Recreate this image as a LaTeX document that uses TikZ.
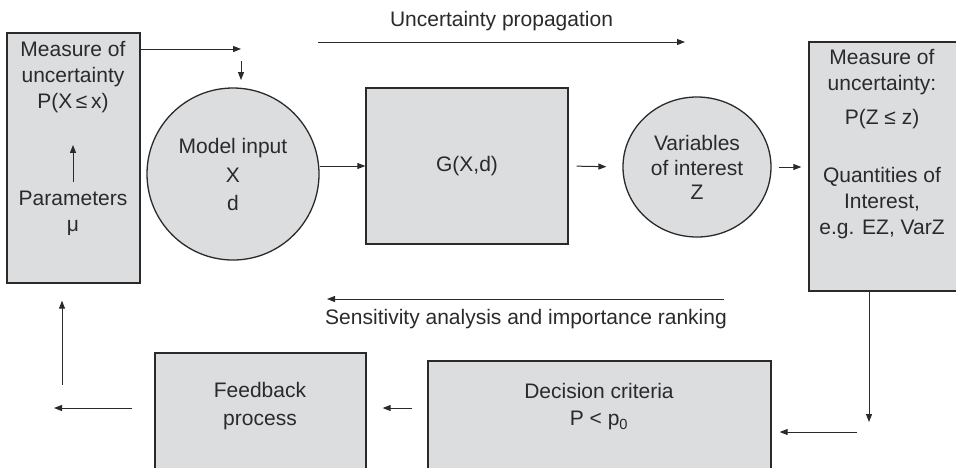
\documentclass[tikz,border=0pt]{standalone}
\usepackage{fontspec}
\setmainfont{Liberation Sans}
\usetikzlibrary{shapes.geometric,arrows.meta,positioning,calc}
\definecolor{boxgray}{HTML}{DCDDDF}
\definecolor{inkgray}{HTML}{2A2A2A}
\tikzset{
  block/.style={draw=inkgray,line width=1.3pt,fill=boxgray,inner sep=0pt,align=center},
  plain/.style={align=center,inner sep=0pt},
  flow/.style={-{Triangle[length=8pt,width=6pt]},line width=1pt,draw=inkgray}
}
\begin{document}
\begin{tikzpicture}[x=1pt,y=-1pt,font=\fontsize{21}{26}\selectfont,text=inkgray]
  \useasboundingbox (0,0) rectangle (956,467);
  \node[block,minimum width=133pt,minimum height=250pt] (inbox) at (73.5,158) {};
  \node[plain] (measin) at (73,77) {Measure of\\uncertainty\\P(X\,≤\,x)};
  \node[plain] (params) at (73,213.5) {Parameters\\μ};
  \node[block,circle,minimum size=172pt] (input) at (233,174) {Model input\\[3pt]X\\[2pt]d};
  \node[block,minimum width=202pt,minimum height=156pt] (model) at (467,166) {G(X,d)};
  \node[block,ellipse,minimum width=148pt,minimum height=140pt] (interest) at (697,167)
    {Variables\\[-1pt]of interest\\[-2pt]Z};
  \node[block,minimum width=149pt,minimum height=249pt] (outbox) at (883.5,166.5) {};
  \node[plain] (measout) at (882,144.5)
    {Measure of\\uncertainty:\\[8pt]P(Z ≤ z)\\[32pt]Quantities of\\Interest,\\e.g. EZ, VarZ};
  \node[block,minimum width=343pt,minimum height=114pt] (decbox) at (599.5,418) {};
  \node[plain] (dectext) at (599,407) {Decision criteria\\[1pt]P < p\textsubscript{0}};
  \node[block,minimum width=211pt,minimum height=122pt] (fbbox) at (260.5,414) {};
  \node[plain] (fbtext) at (260,406.5) {Feedback\\[2pt]process};
  \node[plain] (proptext) at (501.5,21.5) {Uncertainty propagation};
  \node[plain] (senstext) at (526,319.5) {Sensitivity analysis and importance ranking};
  \coordinate (propL) at (318,42);
  \coordinate (propR) at (685,42);
  \coordinate (sensR) at (724,299);
  \coordinate (sensL) at (327,299);
  \coordinate (joinpt) at (241,49);
  \coordinate (droptop) at (241,61);
  \coordinate (dropend) at (241,80);
  \coordinate (backup) at (62,385);
  \coordinate (backend) at (54,408);
  \coordinate (turn) at (869,422);
  \coordinate (turnout) at (857,432);
  \draw[flow] (propL) -- (propR);
  \draw[flow] (sensR) -- (sensL);
  \draw[flow,shorten <=9pt,shorten >=32pt] (params) -- (measin);
  \draw[flow] (inbox.east |- joinpt) -- (joinpt);
  \draw[flow] (droptop) -- (dropend);
  \draw[flow] (input.east |- model.west) -- (model.west);
  \draw[flow,shorten <=8pt,shorten >=16pt] (model.east) -- (interest.west);
  \draw[flow,shorten <=7pt,shorten >=7pt] (interest.east) -- (outbox.west |- interest.east);
  \draw[flow] (outbox.south -| turn) -- (turn);
  \draw[flow,shorten >=8pt] (turnout) -- (decbox.east |- turnout);
  \draw[flow,shorten <=15pt,shorten >=16pt] (decbox.west |- backend) -- (fbbox.east |- backend);
  \draw[flow,shorten <=22pt] (fbbox.west |- backend) -- (backend);
  \draw[flow,shorten >=17pt] (backup) -- (backup |- inbox.south);
\end{tikzpicture}
\end{document}
